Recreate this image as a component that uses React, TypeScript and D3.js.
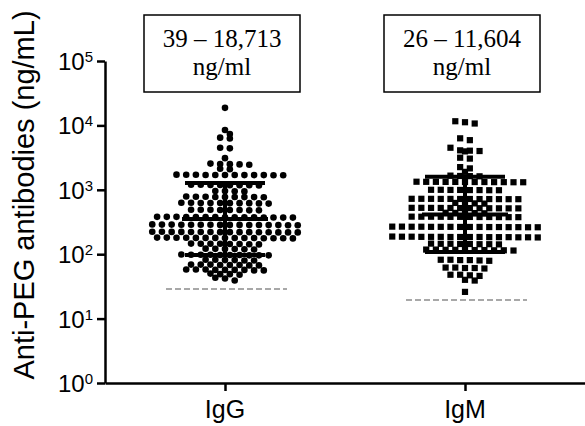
import { useRef, useEffect } from "react";
import * as d3 from "d3";

const WIDTH = 585;
const HEIGHT = 426;

const GROUPS = ["IgG", "IgM"];
const RANGE_LABELS = ["39 – 18,713", "26 – 11,604"];
const UNIT_LABEL = "ng/ml";
const Y_TICKS = [1, 10, 100, 1000, 10000, 100000];

// summary lines (geometric mean, -SD, +SD)
const MEAN = [352, 412];
const SD_LOW = [97, 108];
const SD_HIGH = [1276, 1600];

// detection limits (grey dashed lines)
const LOD = [28.8, 19.4];

const IGG = [
  18713,
  8500,
  7350,
  6450, 6250,
  4500, 4400,
  3100,
  2550, 2520, 2500, 2480, 2450,
  2120, 2080,
  1720, 1710, 1700, 1700, 1690, 1690, 1680, 1700, 1710, 1690, 1700, 1680,
  1200, 1190, 1180, 1180, 1170, 1190, 1200, 1180,
  960, 950, 945, 955,
  780, 775, 770, 775, 780, 765, 770, 785, 775,
  630, 625, 620, 615, 625, 630, 620, 610, 625, 620,
  490, 485, 480, 490, 485, 480, 490, 485,
  380, 375, 372, 378, 375, 370, 380, 376, 374, 372, 378, 375, 380, 370, 376,
  288, 285, 282, 286, 284, 290, 285, 283, 287, 284, 286, 282, 288, 285, 283, 287,
  222, 220, 218, 221, 219, 223, 220, 218, 222, 221, 219, 220, 223, 218, 221, 220,
  180, 178, 177, 179, 178, 181, 176, 179, 180, 177, 178, 179, 181, 177, 178,
  145, 144, 143, 145, 146, 142, 144, 145,
  121, 120, 119, 122, 120, 118,
  98, 97, 96, 98, 97, 99, 96, 97, 98, 96,
  82, 81, 80, 82, 81, 80,
  69, 68, 67, 69, 68, 68, 67, 69,
  58, 57, 56, 58, 57, 57, 56, 58, 57,
  49, 50, 49, 48,
  43, 42,
  39,
];

const IGM = [
  11604, 11200, 10700,
  6300, 5900,
  4500,
  4100, 4050, 4000, 3950,
  3150, 3050,
  2250, 2150,
  1900,
  1660, 1640, 1630, 1620,
  1330, 1320, 1310, 1325, 1315, 1320, 1335, 1310, 1320, 1325, 1315, 1330,
  1000, 990, 985, 995, 990, 1000, 985, 995,
  725, 720, 715, 722, 718, 725, 715, 720, 722, 718, 724, 716,
  625, 615, 620, 610,
  525, 520, 515, 522, 518, 525, 515, 520, 523, 517, 524, 516,
  440, 435, 432, 438, 436,
  382, 378, 376, 380, 379, 383, 377, 381, 378, 380, 376, 382,
  268, 265, 262, 266, 264, 267, 263, 265, 266, 262, 268, 264, 265, 267, 263, 266,
  187, 185, 183, 186, 184, 188, 182, 185, 186, 184, 187, 183, 185, 186, 184, 185,
  145, 144, 143, 146, 144, 142, 145, 143,
  118, 116, 115, 117, 116, 114, 118, 115, 117, 116,
  82, 81, 80, 82, 81, 79,
  62, 61, 60, 62, 61,
  48, 47, 46, 48,
  40, 39,
  26,
];

const SERIES = [IGG, IGM];

const SANS = "'Liberation Sans', Arial, Helvetica, sans-serif";
const SERIF = "'Liberation Serif', 'Times New Roman', serif";

// group points into horizontal rows (GraphPad-like scatter) and spread each row
function swarm(values, y, spacing, tol) {
  const pts = values.map((v) => ({ v, y: y(v), dx: 0 })).sort((a, b) => a.y - b.y);
  const rows = [];
  pts.forEach((p) => {
    const last = rows[rows.length - 1];
    if (last && p.y - last.anchor < tol) last.items.push(p);
    else rows.push({ anchor: p.y, items: [p], shift: 0 });
  });
  let prev = null;
  rows.forEach((r) => {
    const n = r.items.length;
    if (prev && r.anchor - prev.anchor < 7 && n % 2 === prev.items.length % 2) {
      r.shift = prev.shift === 0 ? spacing / 2 : 0;
    }
    r.items.forEach((p, i) => (p.dx = (i - (n - 1) / 2) * spacing + r.shift));
    prev = r;
  });
  return pts;
}

function Chart() {
  const svgRef = useRef(null);

  useEffect(() => {
    const svg = d3.select(svgRef.current);
    svg.selectAll("*").remove();

    const left = 105;
    const bottom = 383;
    const y = d3.scaleLog().domain([1, 1e5]).range([bottom, 61]);
    const x = d3.scalePoint().domain(GROUPS).range([left, WIDTH]).padding(0.5);

    // y axis
    const yAxis = svg.append("g")
      .attr("transform", `translate(${left},0)`)
      .call(d3.axisLeft(y).tickValues(Y_TICKS).tickFormat(() => "").tickSize(8).tickSizeOuter(0));
    yAxis.select(".domain").attr("stroke", "#000").attr("stroke-width", 2.5);
    yAxis.selectAll(".tick line").attr("stroke", "#000").attr("stroke-width", 2.5);

    Y_TICKS.forEach((t) => {
      const txt = svg.append("text")
        .attr("x", 93)
        .attr("y", y(t) + 9)
        .attr("text-anchor", "end")
        .style("font-family", SANS)
        .style("font-size", "24px")
        .attr("fill", "#000");
      txt.append("tspan").text("10");
      txt.append("tspan")
        .attr("dy", -8)
        .style("font-size", "15px")
        .text(String(Math.round(Math.log10(t))));
    });

    // x axis
    const xAxis = svg.append("g")
      .attr("transform", `translate(0,${bottom})`)
      .call(d3.axisBottom(x).tickFormat(() => "").tickSize(8).tickSizeOuter(0));
    xAxis.select(".domain").attr("stroke", "#000").attr("stroke-width", 2.5);
    xAxis.selectAll(".tick line").attr("stroke", "#000").attr("stroke-width", 2.5);

    GROUPS.forEach((g) => {
      svg.append("text")
        .attr("x", x(g))
        .attr("y", 418)
        .attr("text-anchor", "middle")
        .style("font-family", SANS)
        .style("font-size", "25px")
        .attr("fill", "#000")
        .text(g);
    });

    // y title
    svg.append("text")
      .attr("transform", `translate(34,195) rotate(-90)`)
      .attr("text-anchor", "middle")
      .style("font-family", SANS)
      .style("font-size", "29px")
      .attr("fill", "#000")
      .text("Anti-PEG antibodies (ng/mL)");

    // detection limits
    GROUPS.forEach((g, i) => {
      svg.append("line")
        .attr("x1", x(g) - 59)
        .attr("x2", x(g) + 62)
        .attr("y1", y(LOD[i]))
        .attr("y2", y(LOD[i]))
        .attr("stroke", "#a8a8a8")
        .attr("stroke-width", 2)
        .attr("stroke-dasharray", "6,3");
    });

    // points
    GROUPS.forEach((g, i) => {
      const pts = swarm(SERIES[i], y, 9.7, 3.5);
      const cx = x(g);
      if (i === 0) {
        svg.append("g").selectAll("circle")
          .data(pts)
          .join("circle")
          .attr("cx", (d) => cx + d.dx)
          .attr("cy", (d) => d.y)
          .attr("r", 3.3)
          .attr("fill", "#000");
      } else {
        const s = 6.2;
        svg.append("g").selectAll("rect")
          .data(pts)
          .join("rect")
          .attr("x", (d) => cx + d.dx - s / 2)
          .attr("y", (d) => d.y - s / 2)
          .attr("width", s)
          .attr("height", s)
          .attr("fill", "#000");
      }
    });

    // mean +/- SD
    GROUPS.forEach((g, i) => {
      const cx = x(g);
      const bars = svg.append("g").attr("stroke", "#000");
      bars.append("line")
        .attr("x1", cx).attr("x2", cx)
        .attr("y1", y(SD_HIGH[i])).attr("y2", y(SD_LOW[i]))
        .attr("stroke-width", 4);
      [[SD_HIGH[i], 40], [MEAN[i], 43], [SD_LOW[i], 40]].forEach(([v, hw]) => {
        bars.append("line")
          .attr("x1", cx - hw).attr("x2", cx + hw)
          .attr("y1", y(v)).attr("y2", y(v))
          .attr("stroke-width", 4);
      });
    });

    // range boxes
    GROUPS.forEach((g, i) => {
      const cx = x(g) - 3;
      svg.append("rect")
        .attr("x", cx - 78)
        .attr("y", 15)
        .attr("width", 156)
        .attr("height", 77)
        .attr("fill", "#fff")
        .attr("stroke", "#000")
        .attr("stroke-width", 1.5);
      [RANGE_LABELS[i], UNIT_LABEL].forEach((t, k) => {
        svg.append("text")
          .attr("x", cx)
          .attr("y", 47 + k * 28)
          .attr("text-anchor", "middle")
          .style("font-family", SERIF)
          .style("font-size", "25px")
          .attr("fill", "#000")
          .text(t);
      });
    });
  }, []);

  return <svg ref={svgRef} width={WIDTH} height={HEIGHT} style={{ display: "block" }} />;
}

export default function App() {
  return (
    <div style={{ position: "fixed", left: 0, top: 0, width: WIDTH, height: HEIGHT, background: "#fff" }}>
      <Chart />
    </div>
  );
}
